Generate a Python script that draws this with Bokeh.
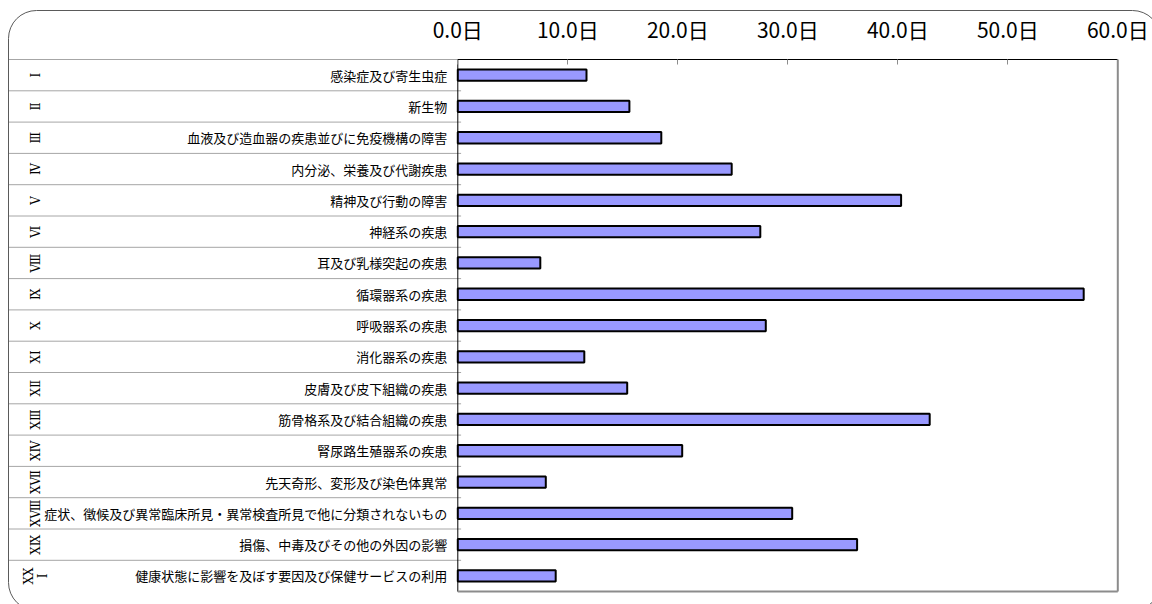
import math
from bokeh.plotting import figure
from bokeh.models import Range1d, LinearAxis, FixedTicker, CustomJSTickFormatter, BoxAnnotation
from bokeh.core.properties import value
from bokeh.embed import file_html
from bokeh.resources import INLINE

# ---- data ----
roman = ["Ⅰ", "Ⅱ", "Ⅲ", "Ⅳ", "Ⅴ", "Ⅵ", "Ⅷ", "Ⅸ", "Ⅹ", "ⅩⅠ", "ⅩⅡ",
         "ⅩⅢ", "ⅩⅣ", "ⅩⅦ", "ⅩⅧ", "ⅩⅨ", "ⅩⅩⅠ"]
categories = [
    "感染症及び寄生虫症",
    "新生物",
    "血液及び造血器の疾患並びに免疫機構の障害",
    "内分泌、栄養及び代謝疾患",
    "精神及び行動の障害",
    "神経系の疾患",
    "耳及び乳様突起の疾患",
    "循環器系の疾患",
    "呼吸器系の疾患",
    "消化器系の疾患",
    "皮膚及び皮下組織の疾患",
    "筋骨格系及び結合組織の疾患",
    "腎尿路生殖器系の疾患",
    "先天奇形、変形及び染色体異常",
    "症状、徴候及び異常臨床所見・異常検査所見で他に分類されないもの",
    "損傷、中毒及びその他の外因の影響",
    "健康状態に影響を及ぼす要因及び保健サービスの利用",
]
days = [11.7, 15.6, 18.5, 24.9, 40.3, 27.5, 7.5, 56.9, 28.0, 11.5, 15.4,
        42.9, 20.4, 8.0, 30.4, 36.3, 8.9]
tick_values = [0, 10, 20, 30, 40, 50, 60]
tick_labels = ["0.0日", "10.0日", "20.0日", "30.0日", "40.0日", "50.0日", "60.0日"]

# ---- layout ----
W, H = 1152, 604
px_per_day = 11.0
x0_px = 457.3
top_px = 59
row_px = 31.3
n = len(categories)
border_px = 8

x_start = -x0_px / px_per_day
x_end = (W - x0_px) / px_per_day
y_top = -top_px / row_px
y_bottom = (H - top_px) / row_px
x_border = (border_px - x0_px) / px_per_day

FONT = "Noto Sans CJK JP"

p = figure(width=W, height=H, output_backend="svg", toolbar_location=None,
           x_range=Range1d(x_start, x_end), y_range=Range1d(y_bottom, y_top),
           x_axis_location=None, y_axis_location=None,
           min_border_left=0, min_border_right=0, min_border_bottom=0,
           min_border_top=0)
p.outline_line_color = None
p.xgrid.visible = False
p.ygrid.visible = False
p.background_fill_color = "white"
p.border_fill_color = "white"

ax = LinearAxis(
    ticker=FixedTicker(ticks=tick_values),
    formatter=CustomJSTickFormatter(
        args=dict(tv=tick_values, tl=tick_labels),
        code="const i = tv.indexOf(Math.round(tick)); return i >= 0 ? tl[i] : '';"),
    fixed_location=0,
    axis_line_color=None,
    major_tick_in=5, major_tick_out=0,
    major_tick_line_color="#8c8c8c",
    minor_tick_line_color=None,
    major_label_text_font=FONT,
    major_label_text_font_size="21px",
    major_label_text_color="#000000",
    major_label_standoff=16,
)
p.add_layout(ax, "above")

# rounded chart-area border
p.add_layout(BoxAnnotation(left=8, right=1160, top=10, bottom=610,
                           left_units="canvas", right_units="canvas",
                           top_units="canvas", bottom_units="canvas",
                           fill_color=None, fill_alpha=0,
                           line_color="#5a5a5a", line_alpha=1.0, line_width=1,
                           border_radius=28, level="overlay"))

centers = [i + 0.5 for i in range(n)]

# row separators (extending slightly into the plot area as ticks)
p.segment(x0=[x_border] * n, y0=list(range(n)), x1=[0.3] * n, y1=list(range(n)),
          line_color="#a6a6a6", line_width=1)

# plot frame
p.segment(x0=[0, 0], y0=[0, 0], x1=[60, 0], y1=[0, n], line_color="#000000", line_width=1)
p.segment(x0=[60, 0], y0=[0, n], x1=[60, 60], y1=[n, n], line_color="#8c8c8c", line_width=2)

# bars
p.hbar(y=centers, left=0, right=days, height=0.36,
       fill_color="#9999ff", line_color="#000000", line_width=2)

# category labels
p.text(x=[0] * n, y=centers, text=categories, x_offset=-10.5,
       text_align="right", text_baseline="middle",
       text_font=value(FONT), text_font_size="13px", text_color="#000000")

# roman numerals (rotated)
roman_disp = [r if len(r) <= 2 else r[:2] + "\n" + r[2:] for r in roman]
p.text(x=[x_start] * n, y=centers, text=roman_disp, x_offset=35,
       angle=math.pi / 2, text_align="center", text_baseline="middle",
       text_font=value("DejaVu Serif"), text_font_size="12px", text_color="#000000",
       text_line_height=1.0)

open("out.html", "w").write(file_html(p, INLINE))
